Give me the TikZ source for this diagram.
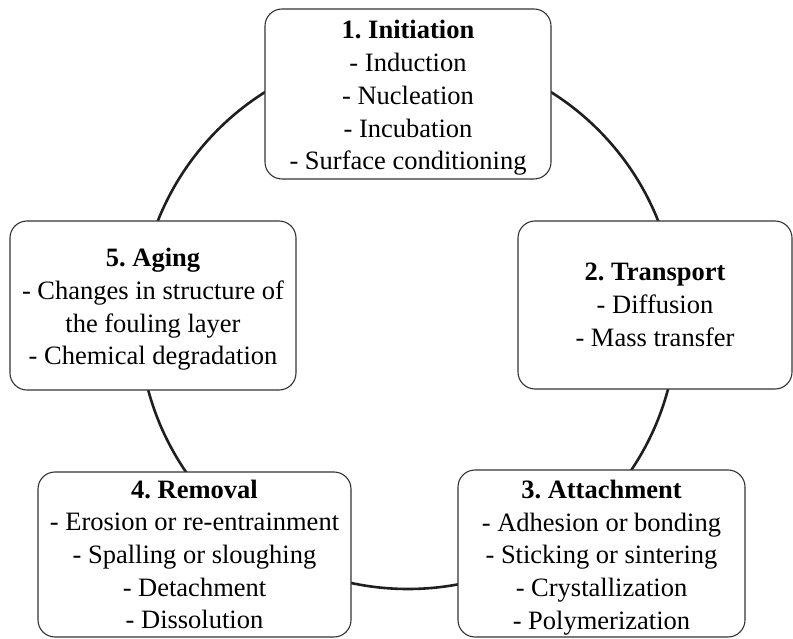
\documentclass[tikz,border=0pt]{standalone}
\usepackage{fontspec}
\setmainfont{Liberation Serif}
\begin{document}
\frenchspacing
\begin{tikzpicture}[x=1pt,y=-1pt,
  stage/.style={draw=black!80, line width=1.1pt, rounded corners=17pt, fill=white, inner sep=0pt},
  words/.style={align=center, inner sep=0pt, font=\fontsize{26.5}{32.7}\selectfont},
  ring/.style={line width=2.6pt, draw=black!88}]
\useasboundingbox (0,0) rectangle (793,639);
\coordinate (c) at (408,320);
\draw[ring] (c) circle[radius=269];
\node[stage, minimum width=286pt, minimum height=170pt] (b1) at (408,94) {};
\node[words] (t1) at ([yshift=-4pt]b1.center)
  {\textbf{1. Initiation}\\- Induction\\- Nucleation\\- Incubation\\- Surface conditioning};
\node[stage, minimum width=274pt, minimum height=168pt] (b2) at (655,305) {};
\node[words] (t2) at (b2.center)
  {\textbf{2. Transport}\\- Diffusion\\- Mass transfer};
\node[stage, minimum width=287pt, minimum height=167pt] (b3) at (601.5,553.5) {};
\node[words] (t3) at ([yshift=-4pt]b3.center)
  {\textbf{3. Attachment}\\- Adhesion or bonding\\- Sticking or sintering\\- Crystallization\\- Polymerization};
\node[stage, minimum width=313pt, minimum height=165pt] (b4) at (194.5,554.5) {};
\node[words] (t4) at (b4.center)
  {\textbf{4. Removal}\\- Erosion or re-entrainment\\- Spalling or sloughing\\- Detachment\\- Dissolution};
\node[stage, minimum width=286pt, minimum height=169pt] (b5) at (153,305.5) {};
\node[words] (t5) at ([yshift=-4pt]b5.center)
  {\textbf{5. Aging}\\- Changes in structure of\\the fouling layer\\- Chemical degradation};
\end{tikzpicture}
\end{document}
